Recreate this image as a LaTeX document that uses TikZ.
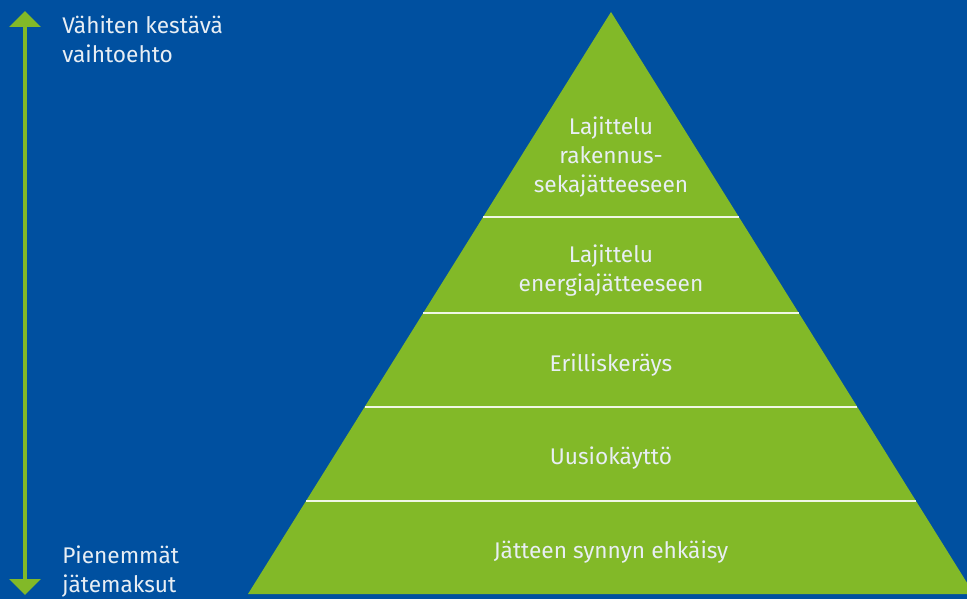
\documentclass[tikz,border=0pt]{standalone}
\usepackage{fontspec}
\setmainfont{Fira Sans}
\usetikzlibrary{positioning, calc, arrows.meta}
\definecolor{bgblue}{HTML}{0050A0}
\definecolor{leafgreen}{HTML}{82B928}
\definecolor{paletext}{HTML}{E8EEF4}

\begin{document}
\begin{tikzpicture}[x=0.75pt, y=-0.75pt,
    every node/.style={text=paletext, font=\fontsize{17}{21.75}\selectfont, align=center, inner sep=0pt},
    sidelabel/.style={align=left, anchor=west},
    tierline/.style={draw=white!88!leafgreen, line width=1.2pt}]
    % Background
    \fill[bgblue] (0,0) rectangle (967,599);
    \useasboundingbox (0,0) rectangle (967,599);

    % Pyramid
    \coordinate (Apex) at (611,12);
    \coordinate (BaseLeft) at (248,594);
    \coordinate (BaseRight) at (974,594);
    \fill[leafgreen] (Apex) -- (BaseLeft) -- (BaseRight) -- cycle;
    \foreach \t [count=\i] in {0.352,0.517,0.679,0.840} {
        \coordinate (Left\i) at ($(Apex)!\t!(BaseLeft)$);
        \coordinate (Right\i) at ($(Apex)!\t!(BaseRight)$);
        \draw[tierline] (Left\i) -- (Right\i);
    }

    % Tiers
    \node (MixedWaste) at (611,157) {Lajittelu\\rakennus-\\sekajätteeseen};
    \node (EnergyWaste) at (611,270.5) {Lajittelu\\energiajätteeseen};
    \node (Separate) at (611,365) {Erilliskeräys};
    \node (Reuse) at (611,458) {Uusiokäyttö};
    \node (Prevention) at (611,552) {Jätteen synnyn ehkäisy};

    % Arrow and its labels
    \coordinate (ArrowTop) at (25,11);
    \coordinate (ArrowBottom) at (25,595);
    \draw[leafgreen, line width=3.6pt, {Triangle[width=23pt, length=12pt]}-{Triangle[width=23pt, length=12pt]}] (ArrowTop) -- (ArrowBottom);
    \node[sidelabel] (LeastSustainable) at (62,39.5) {Vähiten kestävä\\vaihtoehto};
    \node[sidelabel] (LowerFees) at (62,571.5) {Pienemmät\\jätemaksut};
\end{tikzpicture}
\end{document}
